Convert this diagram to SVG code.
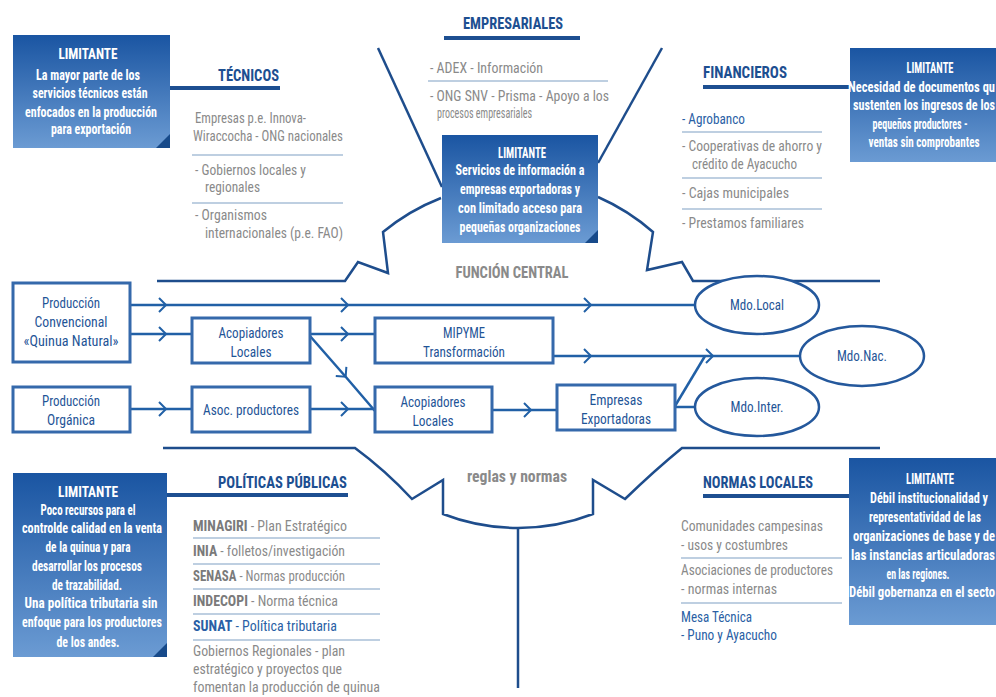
<svg xmlns="http://www.w3.org/2000/svg" width="996" height="697" viewBox="0 0 996 697">
<defs>
<linearGradient id="lg" x1="0" y1="0" x2="0" y2="1">
<stop offset="0" stop-color="#1a55a2"/>
<stop offset="1" stop-color="#6b9bd3"/>
</linearGradient>
<marker id="chev" markerUnits="userSpaceOnUse" markerWidth="16" markerHeight="18" viewBox="-8 -9 16 18" refX="0" refY="0" orient="auto" overflow="visible">
<path d="M-6,-7 L1,0 L-6,7" fill="none" stroke="#2160a6" stroke-width="2"/>
</marker>
<style>
text { font-family: "Roboto Condensed",Roboto,"Liberation Sans Narrow","Liberation Sans",Arial,sans-serif; font-stretch: condensed; }
.title { font-size:17px; font-weight:bold; fill:#1d4f91; }
.lim { font-size:14px; font-weight:bold; fill:#ffffff; text-anchor:middle; }
.limL { font-size:15px; }
.li { font-size:15px; fill:#8a8a8a; }
.lb { fill:#2a5fa5; }
.bold { font-weight:bold; }
.nd { font-size:15px; fill:#1f5597; text-anchor:middle; }
.gray { font-size:16px; font-weight:bold; fill:#8a8a8a; text-anchor:middle; }
.box { fill:url(#lg); }
.fold { fill:#174a8a; }
.ul { stroke:#1d4f91; stroke-width:4; fill:none; }
.sep { stroke:#7f9fc4; stroke-width:1.2; fill:none; }
.gear { stroke:#1e4d8c; stroke-width:2.5; fill:none; stroke-linejoin:miter; }
.fbox { fill:#ffffff; stroke:#3569ab; stroke-width:3; }
.ell { fill:#ffffff; stroke:#24589c; stroke-width:2.5; }
.cn { stroke:#2160a6; stroke-width:2.5; fill:none; marker-mid:url(#chev); }
.cp { stroke:#2160a6; stroke-width:2.5; fill:none; }
</style>
</defs>
<rect width="996" height="697" fill="#ffffff"/>

<!-- frame / gear outline -->
<g id="frame">
<path class="gear" d="M378,48 L442,187"/>
<path class="gear" d="M662,48 L598,163"/>
<path class="gear" d="M157,281 H345 L358,262 L388,273 L383,232 A214,214 0 0 1 441,198"/>
<path class="gear" d="M598,197 A214,214 0 0 1 653,232 L647,270 L682,262 L693,281 H880"/>
<path class="gear" d="M163,448 H355 Q385,470 412,499 L443,480 L443,514 A208,208 0 0 0 593,514 L593,480 L625,499 Q655,470 682,448 H880"/>
<path class="gear" d="M518,528 V688"/>
<text class="gray" x="512" y="278" textLength="113" lengthAdjust="spacingAndGlyphs">FUNCIÓN CENTRAL</text>
<text class="gray" x="517" y="482" textLength="100" lengthAdjust="spacingAndGlyphs">reglas y normas</text>
</g>

<!-- connectors -->
<g id="connectors">
<path class="cn" d="M130,305 L165,305 L347,305 L590,305 L695,305"/>
<path class="cn" d="M130,334 L165,334 L192,334"/>
<path class="cn" d="M310,334 L347,334 L375,334"/>
<path class="cn" d="M310,336 L345,376 L375,411"/>
<path class="cn" d="M553,356 L590,356 L712,356 L800,356"/>
<path class="cp" d="M675,406 L705,356"/>
<path class="cp" d="M675,407 L695,407"/>
<path class="cn" d="M130,409 L165,409 L192,409"/>
<path class="cn" d="M310,409 L347,409 L375,409"/>
<path class="cn" d="M492,410 L530,410 L557,410"/>
<path class="ul" d="M170,88 H280"/>
<path class="ul" d="M703,87 H850"/>
<path class="ul" d="M167,495 H348"/>
<path class="ul" d="M703,496 H850"/>
</g>

<!-- TECNICOS -->
<g id="tecnicos">
<text class="title" x="218" y="81" textLength="61" lengthAdjust="spacingAndGlyphs">TÉCNICOS</text>
<text class="li" x="195" y="123" textLength="111" lengthAdjust="spacingAndGlyphs">Empresas p.e. Innova-</text>
<text class="li" x="193" y="141" textLength="150" lengthAdjust="spacingAndGlyphs">Wiraccocha - ONG nacionales</text>
<path class="sep" d="M192,155 H343"/>
<text class="li" x="195" y="175" textLength="111" lengthAdjust="spacingAndGlyphs">- Gobiernos locales y</text>
<text class="li" x="205" y="192" textLength="55" lengthAdjust="spacingAndGlyphs">regionales</text>
<path class="sep" d="M192,203 H343"/>
<text class="li" x="195" y="220" textLength="72" lengthAdjust="spacingAndGlyphs">- Organismos</text>
<text class="li" x="205" y="238" textLength="138" lengthAdjust="spacingAndGlyphs">internacionales (p.e. FAO)</text>
</g>
<g id="lim-tecnicos">
<rect class="box" x="13" y="35" width="157" height="113"/>
<polygon class="fold" points="170,134 170,148 156,148"/>
<text class="lim limL" x="88" y="59" textLength="59" lengthAdjust="spacingAndGlyphs">LIMITANTE</text>
<text class="lim limL" x="88" y="80" textLength="104" lengthAdjust="spacingAndGlyphs">La mayor parte de los</text>
<text class="lim limL" x="90" y="98" textLength="115" lengthAdjust="spacingAndGlyphs">servicios técnicos están</text>
<text class="lim limL" x="91" y="117" textLength="132" lengthAdjust="spacingAndGlyphs">enfocados en la producción</text>
<text class="lim limL" x="91" y="134" textLength="80" lengthAdjust="spacingAndGlyphs">para exportación</text>
</g>

<!-- EMPRESARIALES -->
<g id="empresariales">
<text class="title" x="513" y="29" text-anchor="middle" textLength="100" lengthAdjust="spacingAndGlyphs">EMPRESARIALES</text>
<path class="ul" d="M444,38 H580"/>
<text class="li" x="430" y="73" textLength="113" lengthAdjust="spacingAndGlyphs">- ADEX - Información</text>
<path class="sep" d="M428,81 H608"/>
<text class="li" x="430" y="101" textLength="179" lengthAdjust="spacingAndGlyphs">- ONG SNV - Prisma - Apoyo a los</text>
<text class="li" x="437" y="118" textLength="95" lengthAdjust="spacingAndGlyphs">procesos empresariales</text>
</g>
<g id="lim-empresariales">
<rect class="box" x="442" y="135" width="156" height="108"/>
<polygon class="fold" points="598,230 598,243 585,243"/>
<text class="lim" x="522" y="158" textLength="48" lengthAdjust="spacingAndGlyphs">LIMITANTE</text>
<text class="lim" x="520" y="175" textLength="129" lengthAdjust="spacingAndGlyphs">Servicios de información a</text>
<text class="lim" x="520" y="194" textLength="120" lengthAdjust="spacingAndGlyphs">empresas exportadoras y</text>
<text class="lim" x="520" y="213" textLength="124" lengthAdjust="spacingAndGlyphs">con limitado acceso para</text>
<text class="lim" x="520" y="232" textLength="121" lengthAdjust="spacingAndGlyphs">pequeñas organizaciones</text>
</g>

<!-- FINANCIEROS -->
<g id="financieros">
<text class="title" x="703" y="78" textLength="84" lengthAdjust="spacingAndGlyphs">FINANCIEROS</text>
<text class="li lb" x="682" y="124" textLength="63" lengthAdjust="spacingAndGlyphs">- Agrobanco</text>
<path class="sep" d="M682,132 H822"/>
<text class="li" x="682" y="151" textLength="140" lengthAdjust="spacingAndGlyphs">- Cooperativas de ahorro y</text>
<text class="li" x="692" y="169" textLength="105" lengthAdjust="spacingAndGlyphs">crédito de Ayacucho</text>
<path class="sep" d="M682,178 H822"/>
<text class="li" x="682" y="198" textLength="107" lengthAdjust="spacingAndGlyphs">- Cajas municipales</text>
<path class="sep" d="M682,209 H822"/>
<text class="li" x="682" y="228" textLength="122" lengthAdjust="spacingAndGlyphs">- Prestamos familiares</text>
</g>
<g id="lim-financieros">
<rect class="box" x="850" y="48" width="150" height="114"/>
<text class="lim" x="930" y="73" textLength="47" lengthAdjust="spacingAndGlyphs">LIMITANTE</text>
<text class="lim" x="848" y="92" style="text-anchor:start" textLength="147" lengthAdjust="spacingAndGlyphs">Necesidad de documentos qu</text>
<text class="lim" x="853" y="110" style="text-anchor:start" textLength="142" lengthAdjust="spacingAndGlyphs">sustenten los ingresos de los</text>
<text class="lim" x="920" y="129" textLength="95" lengthAdjust="spacingAndGlyphs">pequeños productores -</text>
<text class="lim" x="924" y="147" textLength="111" lengthAdjust="spacingAndGlyphs">ventas sin comprobantes</text>
</g>

<!-- flow nodes -->
<g id="prod-convencional">
<rect class="fbox" x="13" y="283" width="117" height="79"/>
<text class="nd" x="71" y="308" textLength="58" lengthAdjust="spacingAndGlyphs">Producción</text>
<text class="nd" x="71" y="327" textLength="73" lengthAdjust="spacingAndGlyphs">Convencional</text>
<text class="nd" x="71" y="346" textLength="95" lengthAdjust="spacingAndGlyphs">«Quinua Natural»</text>
</g>
<g id="acopiadores-1">
<rect class="fbox" x="192" y="318" width="118" height="45"/>
<text class="nd" x="251" y="338" textLength="65" lengthAdjust="spacingAndGlyphs">Acopiadores</text>
<text class="nd" x="251" y="357" textLength="41" lengthAdjust="spacingAndGlyphs">Locales</text>
</g>
<g id="mipyme">
<rect class="fbox" x="375" y="318" width="178" height="45"/>
<text class="nd" x="464" y="338" textLength="42" lengthAdjust="spacingAndGlyphs">MIPYME</text>
<text class="nd" x="464" y="357" textLength="82" lengthAdjust="spacingAndGlyphs">Transformación</text>
</g>
<g id="prod-organica">
<rect class="fbox" x="13" y="387" width="117" height="45"/>
<text class="nd" x="71" y="406" textLength="58" lengthAdjust="spacingAndGlyphs">Producción</text>
<text class="nd" x="71" y="425" textLength="48" lengthAdjust="spacingAndGlyphs">Orgánica</text>
</g>
<g id="asoc-productores">
<rect class="fbox" x="192" y="387" width="118" height="45"/>
<text class="nd" x="251" y="415" textLength="96" lengthAdjust="spacingAndGlyphs">Asoc. productores</text>
</g>
<g id="acopiadores-2">
<rect class="fbox" x="375" y="387" width="117" height="45"/>
<text class="nd" x="433" y="407" textLength="65" lengthAdjust="spacingAndGlyphs">Acopiadores</text>
<text class="nd" x="433" y="426" textLength="41" lengthAdjust="spacingAndGlyphs">Locales</text>
</g>
<g id="empresas-exportadoras">
<rect class="fbox" x="557" y="385" width="118" height="45"/>
<text class="nd" x="616" y="405" textLength="53" lengthAdjust="spacingAndGlyphs">Empresas</text>
<text class="nd" x="616" y="424" textLength="70" lengthAdjust="spacingAndGlyphs">Exportadoras</text>
</g>
<g id="mdo-local">
<ellipse class="ell" cx="757" cy="305" rx="62" ry="29"/>
<text class="nd" x="757" y="310" textLength="54" lengthAdjust="spacingAndGlyphs">Mdo.Local</text>
</g>
<g id="mdo-nac">
<ellipse class="ell" cx="862" cy="356" rx="62" ry="30"/>
<text class="nd" x="862" y="361" textLength="50" lengthAdjust="spacingAndGlyphs">Mdo.Nac.</text>
</g>
<g id="mdo-inter">
<ellipse class="ell" cx="757" cy="407" rx="62" ry="29"/>
<text class="nd" x="757" y="412" textLength="53" lengthAdjust="spacingAndGlyphs">Mdo.Inter.</text>
</g>

<!-- POLITICAS PUBLICAS -->
<g id="politicas">
<text class="title" x="218" y="488" textLength="129" lengthAdjust="spacingAndGlyphs">POLÍTICAS PÚBLICAS</text>
<text class="li" x="193" y="531" textLength="154" lengthAdjust="spacingAndGlyphs"><tspan class="bold" fill="#7a7a7a">MINAGIRI</tspan> - Plan Estratégico</text>
<path class="sep" d="M193,538 H380"/>
<text class="li" x="193" y="556" textLength="152" lengthAdjust="spacingAndGlyphs"><tspan class="bold" fill="#7a7a7a">INIA</tspan> - folletos/investigación</text>
<path class="sep" d="M193,564 H380"/>
<text class="li" x="193" y="581" textLength="152" lengthAdjust="spacingAndGlyphs"><tspan class="bold" fill="#7a7a7a">SENASA</tspan> - Normas producción</text>
<path class="sep" d="M193,589 H380"/>
<text class="li" x="193" y="606" textLength="145" lengthAdjust="spacingAndGlyphs"><tspan class="bold" fill="#7a7a7a">INDECOPI</tspan> - Norma técnica</text>
<path class="sep" d="M193,614 H380"/>
<text class="li lb" x="193" y="631" textLength="144" lengthAdjust="spacingAndGlyphs"><tspan class="bold">SUNAT</tspan> - Política tributaria</text>
<path class="sep" d="M193,640 H380"/>
<text class="li" x="193" y="656" textLength="152" lengthAdjust="spacingAndGlyphs">Gobiernos Regionales - plan</text>
<text class="li" x="193" y="674" textLength="149" lengthAdjust="spacingAndGlyphs">estratégico y proyectos que</text>
<text class="li" x="193" y="692" textLength="187" lengthAdjust="spacingAndGlyphs">fomentan la producción de quinua</text>
</g>
<g id="lim-politicas">
<rect class="box" x="13" y="473" width="154" height="184"/>
<polygon class="fold" points="167,643 167,657 153,657"/>
<text class="lim limL" x="88" y="497" textLength="60" lengthAdjust="spacingAndGlyphs">LIMITANTE</text>
<text class="lim limL" x="88" y="515" textLength="95" lengthAdjust="spacingAndGlyphs">Poco recursos para el</text>
<text class="lim limL" x="92" y="533" textLength="140" lengthAdjust="spacingAndGlyphs">controlde calidad en la venta</text>
<text class="lim limL" x="88" y="552" textLength="85" lengthAdjust="spacingAndGlyphs">de la quinua y para</text>
<text class="lim limL" x="87" y="571" textLength="110" lengthAdjust="spacingAndGlyphs">desarrollar los procesos</text>
<text class="lim limL" x="87" y="590" textLength="70" lengthAdjust="spacingAndGlyphs">de trazabilidad.</text>
<text class="lim limL" x="91" y="608" textLength="133" lengthAdjust="spacingAndGlyphs">Una política tributaria sin</text>
<text class="lim limL" x="92" y="627" textLength="140" lengthAdjust="spacingAndGlyphs">enfoque para los productores</text>
<text class="lim limL" x="88" y="647" textLength="63" lengthAdjust="spacingAndGlyphs">de los andes.</text>
</g>

<!-- NORMAS LOCALES -->
<g id="normas-locales">
<text class="title" x="703" y="488" textLength="110" lengthAdjust="spacingAndGlyphs">NORMAS LOCALES</text>
<text class="li" x="681" y="531" textLength="142" lengthAdjust="spacingAndGlyphs">Comunidades campesinas</text>
<text class="li" x="681" y="550" textLength="107" lengthAdjust="spacingAndGlyphs">- usos y costumbres</text>
<path class="sep" d="M681,558 H842"/>
<text class="li" x="681" y="575" textLength="152" lengthAdjust="spacingAndGlyphs">Asociaciones de productores</text>
<text class="li" x="681" y="594" textLength="96" lengthAdjust="spacingAndGlyphs">- normas internas</text>
<path class="sep" d="M681,603 H842"/>
<text class="li lb" x="681" y="622" textLength="71" lengthAdjust="spacingAndGlyphs">Mesa Técnica</text>
<text class="li lb" x="681" y="640" textLength="96" lengthAdjust="spacingAndGlyphs">- Puno y Ayacucho</text>
</g>
<g id="lim-normas">
<rect class="box" x="849" y="458" width="151" height="167"/>
<text class="lim" x="930" y="484" textLength="48" lengthAdjust="spacingAndGlyphs">LIMITANTE</text>
<text class="lim" x="929" y="503" textLength="118" lengthAdjust="spacingAndGlyphs">Débil institucionalidad y</text>
<text class="lim" x="925" y="522" textLength="112" lengthAdjust="spacingAndGlyphs">representatividad de las</text>
<text class="lim" x="853" y="541" style="text-anchor:start" textLength="142" lengthAdjust="spacingAndGlyphs">organizaciones de base y de</text>
<text class="lim" x="851" y="560" style="text-anchor:start" textLength="144" lengthAdjust="spacingAndGlyphs">las instancias articuladoras</text>
<text class="lim" x="918" y="579" textLength="63" lengthAdjust="spacingAndGlyphs">en las regiones.</text>
<text class="lim" x="849" y="597" style="text-anchor:start" textLength="146" lengthAdjust="spacingAndGlyphs">Débil gobernanza en el secto</text>
</g>
</svg>
